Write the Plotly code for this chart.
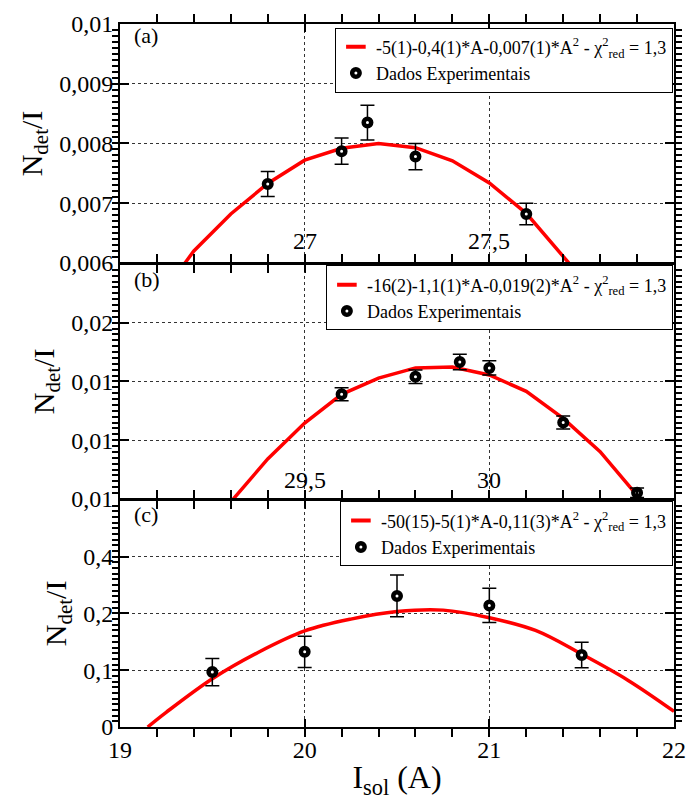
import plotly.graph_objects as go
from plotly.subplots import make_subplots

# ---- Panel (a) ----
a_x = [26.9, 27.1, 27.17, 27.3, 27.6]
a_y = [0.00732, 0.00787, 0.00835, 0.00778, 0.00682]
a_err = [0.00021, 0.00022, 0.00029, 0.00022, 0.00018]
# fitted curve, from where it enters the frame to where it leaves it
a_fit_x = [26.676, 26.7, 26.8, 26.9, 27.0, 27.1, 27.2, 27.3, 27.4, 27.5, 27.6, 27.7, 27.715]
a_fit_y = [0.00600, 0.00620, 0.00682, 0.00733, 0.00772, 0.00792, 0.00800,
           0.00793, 0.00771, 0.00734, 0.00683, 0.00610, 0.00600]
a_xticks = [27, 27.5]
a_label = "-5(1)-0,4(1)*A-0,007(1)*A<sup>2</sup> - χ<sup>2</sup><sub>red</sub> = 1,3"

# ---- Panel (b) ----
b_x = [29.6, 29.8, 29.92, 30.0, 30.2, 30.4]
b_y = [0.01356, 0.01416, 0.01466, 0.01446, 0.01260, 0.01021]
b_err = [0.00022, 0.00023, 0.00026, 0.00024, 0.00022, 0.00016]
b_fit_x = [29.307, 29.4, 29.5, 29.6, 29.7, 29.8, 29.9, 30.0, 30.1, 30.2, 30.3, 30.4, 30.408]
b_fit_y = [0.01000, 0.01136, 0.01258, 0.01356, 0.01411, 0.01446, 0.01449,
           0.01422, 0.01366, 0.01274, 0.01161, 0.01013, 0.01000]
b_xticks = [29.5, 30]
b_label = "-16(2)-1,1(1)*A-0,019(2)*A<sup>2</sup> - χ<sup>2</sup><sub>red</sub> = 1,3"

# ---- Panel (c) ----
c_x = [19.5, 20.0, 20.5, 21.0, 21.5]
c_y = [0.116, 0.159, 0.277, 0.257, 0.152]
c_err = [0.029, 0.033, 0.044, 0.036, 0.027]
c_fit_x = [19.15, 19.25, 19.5, 19.75, 20.0, 20.25, 20.5, 20.75, 21.0, 21.25, 21.5, 21.75, 22.0]
c_fit_y = [0.0, 0.031, 0.102, 0.158, 0.203, 0.228, 0.244, 0.247, 0.231, 0.204,
           0.154, 0.099, 0.033]
c_xticks = [19, 20, 21, 22]
c_label = "-50(15)-5(1)*A-0,11(3)*A<sup>2</sup> - χ<sup>2</sup><sub>red</sub> = 1,3"

data_label = "Dados Experimentais"
panel_tags = ["(a)", "(b)", "(c)"]

FONT = "Liberation Serif"
RED = "#ff0000"

fig = make_subplots(rows=3, cols=1, vertical_spacing=0)

panels = [
    (a_x, a_y, a_err, a_fit_x, a_fit_y, a_label, "legend"),
    (b_x, b_y, b_err, b_fit_x, b_fit_y, b_label, "legend2"),
    (c_x, c_y, c_err, c_fit_x, c_fit_y, c_label, "legend3"),
]

for i, (px, py, pe, fx, fy, lab, leg) in enumerate(panels, start=1):
    shape = "spline" if i == 3 else "linear"
    # fitted curve
    fig.add_trace(go.Scatter(x=fx, y=fy, mode="lines", line=dict(color=RED, width=3.5, shape=shape),
                             showlegend=False, hoverinfo="skip"), row=i, col=1)
    # short red dash used as the legend key of the fit
    fig.add_trace(go.Scatter(x=[None], y=[None], mode="markers", name=lab, legend=leg,
                             marker=dict(symbol="line-ew", size=14,
                                         line=dict(color=RED, width=4))),
                  row=i, col=1)
    # experimental points with error bars
    fig.add_trace(go.Scatter(x=px, y=py, mode="markers", name=data_label, legend=leg,
                             marker=dict(symbol="circle", size=7.5, color="white",
                                         line=dict(color="black", width=4.5)),
                             error_y=dict(type="data", array=pe, visible=True,
                                          color="black", thickness=1.5, width=7)),
                  row=i, col=1)

# vertical extent of each panel (paper coordinates, plot area 715 px tall);
# neighbouring frames share a ~3 px dividing line
PLOT_H = 715.0
doms = [[1 - 243 / PLOT_H, 1.0],
        [1 - 483 / PLOT_H, 1 - 244 / PLOT_H],
        [0.0, 1 - 484 / PLOT_H]]

axis_common = dict(showline=True, linecolor="black", linewidth=2, mirror="ticks",
                   ticks="inside", tickcolor="black", tickwidth=1.5,
                   showgrid=True, gridcolor="#333333", griddash="dot", gridwidth=1,
                   zeroline=False, tickfont=dict(family=FONT, size=24, color="black"))

minor_x = dict(ticklen=8, tickcolor="black", tickwidth=1.5, showgrid=False)

# x axes; the upper two get their numbers written inside the frame (below)
x_specs = [
    dict(range=[26.5, 28.0], tickvals=a_xticks, tickmode="array", showticklabels=False,
         minor=dict(tick0=26.5, dtick=0.1, **minor_x)),
    dict(range=[29.0, 30.5], tickvals=b_xticks, tickmode="array", showticklabels=False,
         minor=dict(tick0=29.0, dtick=0.1, **minor_x)),
    dict(range=[19.0, 22.0], tickvals=c_xticks, tickmode="array",
         minor=dict(tick0=19.0, dtick=0.2, **minor_x),
         title=dict(text="I<sub>sol</sub> (A)", font=dict(family=FONT, size=32, color="black"),
                    standoff=4)),
]
for i, spec in enumerate(x_specs, start=1):
    fig.update_xaxes(**axis_common, ticklen=8, **spec, row=i, col=1)

# tick numbers of the upper panels, sitting just above their bottom line
for xref, yref, vals, yfrac in [("x", "y domain", a_xticks, 0.092),
                                ("x2", "y2 domain", b_xticks, 0.080)]:
    for v in vals:
        txt = f"{v:g}".replace(".", ",")
        fig.add_annotation(text=txt, x=v, y=yfrac, xref=xref, yref=yref,
                           xanchor="center", yanchor="middle", showarrow=False,
                           font=dict(family=FONT, size=24, color="black"))

# y axes
minor_y = dict(ticklen=6, tickcolor="black", tickwidth=1.5, showgrid=False)
y_specs = [
    dict(range=[0.006, 0.01], tickvals=[0.006, 0.007, 0.008, 0.009, 0.01], tickformat=".3~f",
         minor=dict(tick0=0.006, dtick=0.0001, **minor_y)),
    dict(range=[0.010, 0.018], tickvals=[0.010, 0.012, 0.014, 0.016], tickformat=".2~f",
         minor=dict(tick0=0.010, dtick=0.0002, **minor_y)),
    dict(range=[0.0, 0.48], tickvals=[0.0, 0.12, 0.24, 0.36], tickformat=".1~f",
         minor=dict(tick0=0.0, dtick=0.012, **minor_y)),
]
for i, spec in enumerate(y_specs, start=1):
    fig.update_yaxes(**axis_common, ticklen=9, **spec, domain=doms[i - 1],
                     title=dict(text="N<sub>det</sub>/I",
                                font=dict(family=FONT, size=30, color="black"), standoff=8),
                     row=i, col=1)

# panel tags
tag_y = [0.984, 0.6364, 0.3020]
for tag, ty in zip(panel_tags, tag_y):
    fig.add_annotation(text=tag, xref="paper", yref="paper", x=0.021, y=ty,
                       xanchor="left", yanchor="middle", showarrow=False,
                       font=dict(family=FONT, size=22, color="black"))

legend_common = dict(xanchor="right", yanchor="top", x=0.998,
                     bgcolor="white", bordercolor="black", borderwidth=1,
                     font=dict(family=FONT, size=18, color="black"),
                     itemwidth=30, tracegroupgap=0)

fig.update_layout(
    width=697, height=800,
    margin=dict(l=120, r=11, t=16, b=69),
    paper_bgcolor="white", plot_bgcolor="white",
    separators=", ",
    font=dict(family=FONT, color="black"),
    legend=dict(**legend_common, y=0.9950),
    legend2=dict(**legend_common, y=0.6565),
    legend3=dict(**legend_common, y=0.3210),
)

fig.write_html("out.html")
